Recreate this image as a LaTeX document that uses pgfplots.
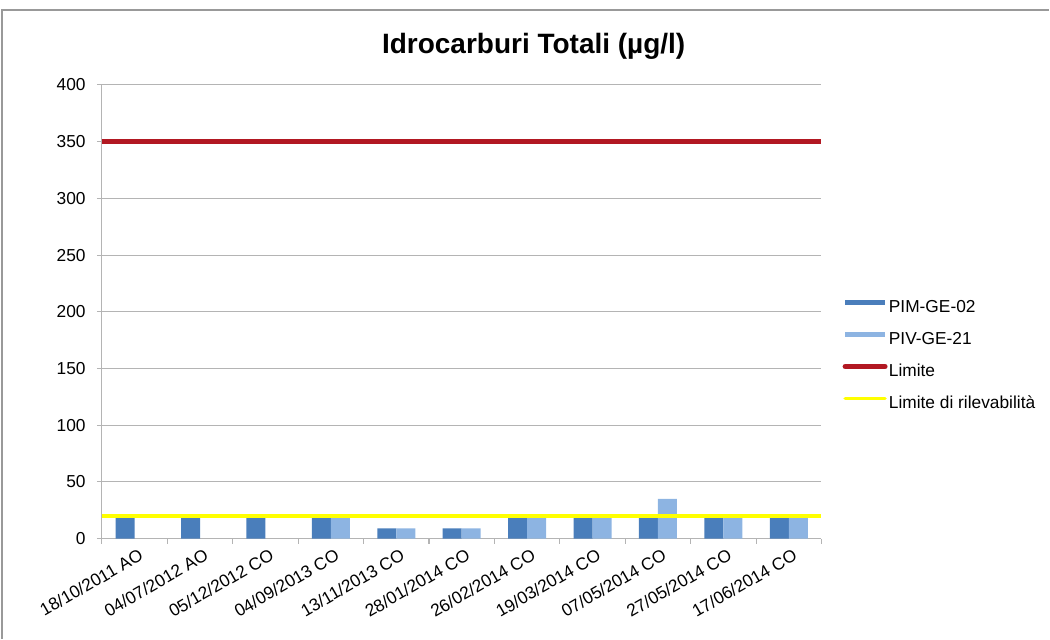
\documentclass[border=0pt]{standalone}
\usepackage{fontspec}
\setmainfont{Liberation Sans}
\usepackage{pgfplots}
\pgfplotsset{compat=1.18}

\definecolor{pim}{RGB}{74,126,187}
\definecolor{piv}{RGB}{141,180,226}
\definecolor{limite}{RGB}{178,24,34}
\definecolor{rilev}{RGB}{255,255,0}
\definecolor{gris}{RGB}{180,180,180}

\begin{document}
\begin{tikzpicture}
\begin{axis}[
    at={(0,0)}, anchor=south west,
    scale only axis,
    width=540pt, height=340.5pt,
    xmin=-0.5, xmax=10.5, ymin=0, ymax=400,
    ytick={0,50,...,400},
    xtick={0,...,10},
    xticklabels={18/10/2011 AO, 04/07/2012 AO, 05/12/2012 CO, 04/09/2013 CO,
                 13/11/2013 CO, 28/01/2014 CO, 26/02/2014 CO, 19/03/2014 CO,
                 07/05/2014 CO, 27/05/2014 CO, 17/06/2014 CO},
    minor xtick={-0.5,0.5,...,10.5},
    major x tick style={draw=none},
    tick align=outside,
    major tick length=3.75pt, minor tick length=3.75pt,
    tick style={gris, line width=0.8pt},
    axis x line*=bottom, axis y line*=left,
    axis line style={gris, line width=0.8pt},
    ymajorgrids, grid style={gris, line width=0.8pt},
    /pgf/number format/assume math mode=true,
    tick label style={font=\fontsize{13}{15}\selectfont},
    yticklabel style={xshift=-5pt},
    xticklabel style={rotate=30, anchor=east, xshift=4pt, yshift=-9pt},
    title={Idrocarburi Totali (µg/l)},
    title style={at={(0.6,1)}, anchor=center, yshift=23pt,
                 font=\bfseries\fontsize{21}{25}\selectfont},
    legend cell align=left,
    legend style={draw=none, fill=none, at={(1.029,0.403)}, anchor=west,
                  inner sep=0pt, row sep=11pt, column sep=1pt,
                  nodes={inner sep=0pt, text height=10pt, text depth=3pt,
                         font=\fontsize{13}{15}\selectfont}},
]
\addplot[ybar, bar width=14.25pt, bar shift=-7.125pt, fill=pim, draw=none,
         legend image code/.code={\draw[line width=3.75pt, pim] (0pt,4pt) -- (30pt,4pt);}]
coordinates {(0,18) (1,18) (2,18) (3,18) (4,9) (5,9) (6,18) (7,18) (8,18) (9,18) (10,18)};
\addlegendentry{PIM-GE-02}
\addplot[ybar, bar width=14.25pt, bar shift=7.125pt, fill=piv, draw=none,
         legend image code/.code={\draw[line width=3.75pt, piv] (0pt,4pt) -- (30pt,4pt);}]
coordinates {(3,18) (4,9) (5,9) (6,18) (7,18) (8,35) (9,18) (10,18)};
\addlegendentry{PIV-GE-21}
\addplot[limite, line width=4pt, no marks,
         legend image code/.code={\draw[line width=3.75pt, limite, line cap=round] (0pt,4pt) -- (30pt,4pt);}]
coordinates {(-0.5,350) (10.5,350)};
\addlegendentry{Limite}
\addplot[rilev, line width=3pt, no marks,
         legend image code/.code={\draw[line width=2.5pt, rilev, line cap=round] (0pt,4pt) -- (30pt,4pt);}]
coordinates {(-0.5,20) (10.5,20)};
\addlegendentry{Limite di rilevabilità}
\end{axis}
\draw[gray!80, line width=1pt] (-75pt,-75pt) -- (-75pt,396.75pt) -- (711pt,396.75pt);
\useasboundingbox (-76.5pt,-75pt) rectangle (711pt,404.25pt);
\end{tikzpicture}
\end{document}
